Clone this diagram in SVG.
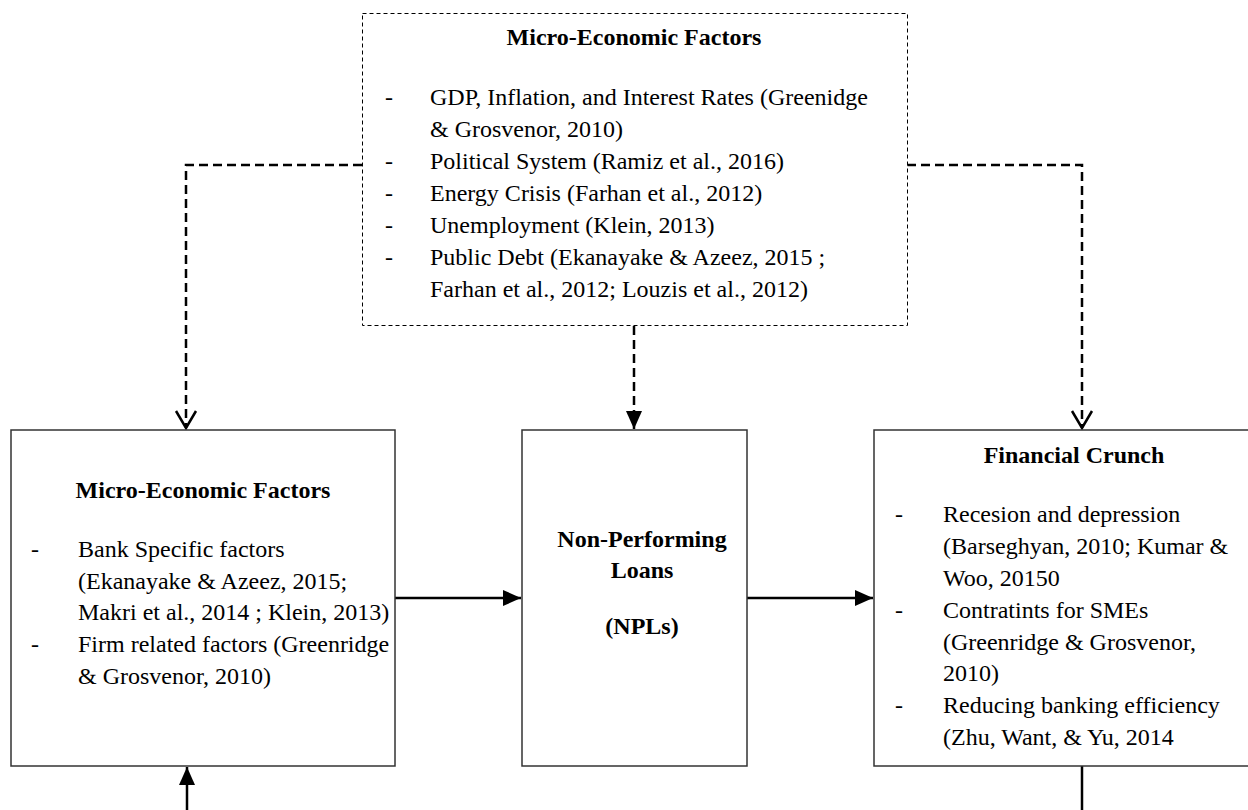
<svg xmlns="http://www.w3.org/2000/svg" width="1248" height="810" viewBox="0 0 1248 810">
<defs>
<style>
.box{fill:#fff;stroke:#333;stroke-width:1.5}
.dbox{fill:#fff;stroke:#000;stroke-width:1;stroke-dasharray:4 3}
.t{font-family:"Liberation Serif","Times New Roman",serif;font-size:24px;fill:#000}
.b{font-weight:bold}
.c{text-anchor:middle}
.dc{fill:none;stroke:#000;stroke-width:2.5;stroke-dasharray:9 5}
.sc{fill:none;stroke:#000;stroke-width:2.5}
</style>
<marker id="open" markerUnits="userSpaceOnUse" markerWidth="24" markerHeight="24" viewBox="0 0 24 24" refX="19" refY="12" orient="auto">
<path d="M2,2 L19,12 L2,22" fill="none" stroke="#000" stroke-width="2.5"/>
</marker>
<marker id="fill" markerUnits="userSpaceOnUse" markerWidth="22" markerHeight="22" viewBox="0 0 22 22" refX="20" refY="11" orient="auto">
<path d="M2,3 L20,11 L2,19 z" fill="#000"/>
</marker>
</defs>
<rect width="1248" height="810" fill="#fff"/>

<g id="connectors">
<path class="dc" d="M362,165 H186 V428" marker-end="url(#open)"/>
<path class="dc" d="M907,165 H1082 V428" marker-end="url(#open)"/>
<path class="dc" d="M634,326 V429" marker-end="url(#fill)"/>
<path class="sc" d="M395,598 H521" marker-end="url(#fill)"/>
<path class="sc" d="M747,598 H873" marker-end="url(#fill)"/>
<path class="sc" d="M187,810 V767" marker-end="url(#fill)"/>
<path class="sc" d="M1082,766 V810"/>
</g>

<g id="macro">
<rect class="dbox" x="362.5" y="13.5" width="545" height="312"/>
<text class="t b c" x="634" y="45">Micro-Economic Factors</text>
<text class="t" x="385" y="105">-</text>
<text class="t" x="430" y="105">GDP, Inflation, and Interest Rates (Greenidge</text>
<text class="t" x="430" y="137">&amp; Grosvenor, 2010)</text>
<text class="t" x="385" y="169">-</text>
<text class="t" x="430" y="169">Political System (Ramiz et al., 2016)</text>
<text class="t" x="385" y="201">-</text>
<text class="t" x="430" y="201">Energy Crisis (Farhan et al., 2012)</text>
<text class="t" x="385" y="233">-</text>
<text class="t" x="430" y="233">Unemployment (Klein, 2013)</text>
<text class="t" x="385" y="265">-</text>
<text class="t" x="430" y="265">Public Debt (Ekanayake &amp; Azeez, 2015 ;</text>
<text class="t" x="430" y="297">Farhan et al., 2012; Louzis et al., 2012)</text>
</g>

<g id="micro">
<rect class="box" x="11" y="430" width="384" height="336"/>
<text class="t b c" x="203" y="498">Micro-Economic Factors</text>
<text class="t" x="31" y="557">-</text>
<text class="t" x="78" y="557">Bank Specific factors</text>
<text class="t" x="78" y="589">(Ekanayake &amp; Azeez, 2015;</text>
<text class="t" x="78" y="620">Makri et al., 2014 ; Klein, 2013)</text>
<text class="t" x="31" y="652">-</text>
<text class="t" x="78" y="652">Firm related factors (Greenridge</text>
<text class="t" x="78" y="684">&amp; Grosvenor, 2010)</text>
</g>

<g id="npl">
<rect class="box" x="522" y="430" width="225" height="336"/>
<text class="t b c" x="642" y="547">Non-Performing</text>
<text class="t b c" x="642" y="578">Loans</text>
<text class="t b c" x="642" y="634">(NPLs)</text>
</g>

<g id="crunch">
<rect class="box" x="874" y="430" width="390" height="336"/>
<text class="t b c" x="1074" y="463">Financial Crunch</text>
<text class="t" x="895" y="522">-</text>
<text class="t" x="943" y="522">Recesion and depression</text>
<text class="t" x="943" y="554">(Barseghyan, 2010; Kumar &amp;</text>
<text class="t" x="943" y="586">Woo, 20150</text>
<text class="t" x="895" y="618">-</text>
<text class="t" x="943" y="618">Contratints for SMEs</text>
<text class="t" x="943" y="650">(Greenridge &amp; Grosvenor,</text>
<text class="t" x="943" y="681">2010)</text>
<text class="t" x="895" y="713">-</text>
<text class="t" x="943" y="713">Reducing banking efficiency</text>
<text class="t" x="943" y="745">(Zhu, Want, &amp; Yu, 2014</text>
</g>
</svg>
